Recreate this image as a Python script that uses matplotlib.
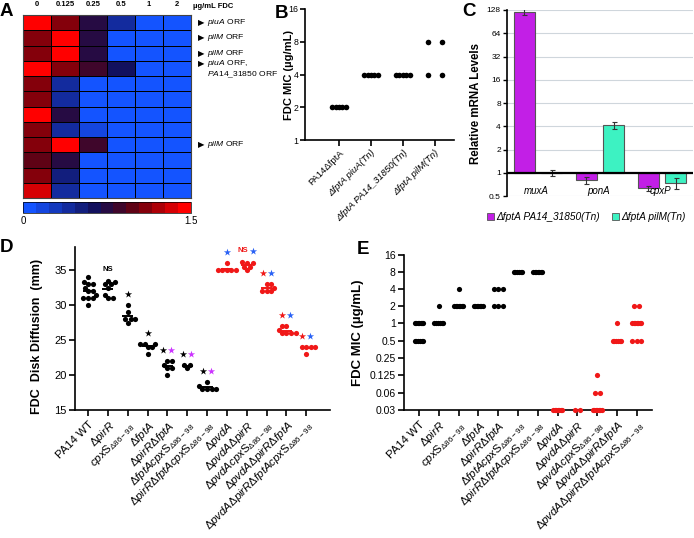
import numpy as np
import matplotlib
matplotlib.use('Agg')
import matplotlib.pyplot as plt
from matplotlib.colors import LinearSegmentedColormap, Normalize
from matplotlib.cm import ScalarMappable
from matplotlib.patches import Patch

plt.rcParams['font.family'] = ['Liberation Sans', 'DejaVu Sans']
plt.rcParams['mathtext.fontset'] = 'custom'
plt.rcParams['mathtext.rm'] = 'Liberation Sans'
plt.rcParams['mathtext.it'] = 'Liberation Sans:italic'
plt.rcParams['mathtext.bf'] = 'Liberation Sans:bold'
plt.rcParams['axes.linewidth'] = 1.2

# ---------------- data ----------------
# Panel A
heat_cols = ['0', '0.125', '0.25', '0.5', '1', '2']
heat_vals = np.array([
    [1.50, 1.10, 0.80, 0.40, 0.05, 0.05],
    [1.10, 1.45, 0.78, 0.05, 0.05, 0.05],
    [1.10, 1.45, 0.72, 0.05, 0.05, 0.05],
    [1.45, 1.10, 0.92, 0.62, 0.05, 0.05],
    [1.05, 0.45, 0.10, 0.05, 0.05, 0.05],
    [1.10, 0.40, 0.05, 0.05, 0.05, 0.05],
    [1.40, 0.72, 0.05, 0.05, 0.05, 0.05],
    [1.10, 0.40, 0.15, 0.05, 0.05, 0.05],
    [1.15, 1.45, 0.85, 0.05, 0.05, 0.05],
    [1.00, 0.80, 0.05, 0.05, 0.05, 0.05],
    [1.10, 0.55, 0.10, 0.05, 0.05, 0.05],
    [1.30, 0.45, 0.05, 0.05, 0.05, 0.05],
])
heat_marks = {0: [r'$\mathit{piuA}$ ORF'],
              1: [r'$\mathit{pilM}$ ORF'],
              2: [r'$\mathit{pilM}$ ORF'],
              3: [r'$\mathit{piuA}$ ORF,', r'$\mathit{PA14\_31850}$ ORF'],
              8: [r'$\mathit{pilM}$ ORF']}

# Panel B
b_labels = ['PA14ΔfptA', 'ΔfptA piuA(Tn)', 'ΔfptA PA14_31850(Tn)', 'ΔfptA pilM(Tn)']
b_vals = [[2, 2, 2, 2, 2], [4, 4, 4, 4, 4], [4, 4, 4, 4, 4], [8, 8, 4, 4]]
b_ticks = [1, 2, 4, 8, 16]

# Panel C
c_genes = ['muxA', 'ponA', 'cpxP']
c_series = ['ΔfptA PA14_31850(Tn)', 'ΔfptA pilM(Tn)']
c_31850 = [120, 0.80, 0.63]
c_31850_err = [10, 0.08, 0.05]
c_pilM = [1.0, 4.1, 0.74]
c_pilM_err = [0.08, 0.45, 0.12]
c_ticks = [0.5, 1, 2, 4, 8, 16, 32, 64, 128]

# Panels D & E
sub = r'\mathrm{S}_{\mathrm{Δ86-98}}'
strains = [
    'PA14 WT',
    r'Δ$\mathit{pirR}$',
    r'$\mathit{cpx}' + sub + '$',
    r'Δ$\mathit{fptA}$',
    r'Δ$\mathit{pirR}$Δ$\mathit{fptA}$',
    r'Δ$\mathit{fptAcpx}' + sub + '$',
    r'Δ$\mathit{pirR}$Δ$\mathit{fptAcpx}' + sub + '$',
    r'Δ$\mathit{pvdA}$',
    r'Δ$\mathit{pvdA}$Δ$\mathit{pirR}$',
    r'Δ$\mathit{pvdAcpx}' + sub + '$',
    r'Δ$\mathit{pvdA}$Δ$\mathit{pirR}$Δ$\mathit{fptA}$',
    r'Δ$\mathit{pvdA}$Δ$\mathit{pirR}$Δ$\mathit{fptAcpx}' + sub + '$',
]
strain_red = [False] * 7 + [True] * 5

d_vals = [
    [34, 33.3, 33, 33, 32.5, 32, 32, 31.5, 31, 31, 31, 30],
    [33.5, 33.3, 33, 33, 32.5, 31.5, 31, 31],
    [30, 29, 28, 28, 28, 27.5],
    [24.5, 24.5, 24.5, 24, 24, 23],
    [22, 22, 21.5, 21, 21, 20],
    [21, 21.5, 21.5],
    [19, 18.5, 18, 18, 18, 18],
    [36, 35, 35, 35, 35, 35],
    [36.2, 36, 36, 35.5, 35.5, 35],
    [33, 33, 32.5, 32, 32, 32],
    [27, 27, 26.5, 26, 26, 26, 26],
    [24, 24, 24, 24, 23],
]
d_sig = [
    [],
    [('NS', 'k')],
    [('*', 'k')],
    [('*', 'k')],
    [('*', 'k'), ('*', 'm')],
    [('*', 'k'), ('*', 'm')],
    [('*', 'k'), ('*', 'm')],
    [('*', 'b')],
    [('NS', 'r'), ('*', 'b')],
    [('*', 'r'), ('*', 'b')],
    [('*', 'r'), ('*', 'b')],
    [('*', 'r'), ('*', 'b')],
]

e_vals = [
    [1] * 7 + [0.5] * 6,
    [2] + [1] * 6,
    [4] + [2] * 7,
    [2] * 7,
    [4] * 3 + [2] * 3,
    [8] * 6,
    [8] * 7,
    [0.03] * 7,
    [0.03] * 2,
    [0.125] + [0.06] * 2 + [0.03] * 7,
    [1] + [0.5] * 6,
    [2] * 2 + [1] * 7 + [0.5] * 3,
]
e_ticks = [0.03, 0.06, 0.125, 0.25, 0.5, 1, 2, 4, 8, 16]

# ---------------- styling ----------------
W, H = 694, 538
fig = plt.figure(figsize=(W / 100, H / 100), dpi=100)

def rect(x0, y0, x1, y1):
    return [x0 / W, 1 - y1 / H, (x1 - x0) / W, (y1 - y0) / H]

MAG = '#C21FE6'
GRN = '#3DF2C2'
RED = '#F01818'
BLUE = '#2A62F5'
PINK = '#CC33FF'
colmap = {'k': 'black', 'm': PINK, 'r': RED, 'b': BLUE}

def spread(vals, max_step, total):
    vals = np.asarray(vals, float)
    offs = np.zeros(len(vals))
    for v in np.unique(vals):
        idx = np.where(vals == v)[0]
        n = len(idx)
        if n > 1:
            step = min(max_step, total / (n - 1))
            offs[idx] = (np.arange(n) - (n - 1) / 2) * step
    return offs

def swarm(vals, ppu_y, ppu_x, d):
    ys = np.asarray(vals, float) * ppu_y
    xs = np.zeros(len(ys))
    done = []
    for i in np.argsort(ys):
        y = ys[i]
        cands = [0.0]
        for j in done:
            dy = y - ys[j]
            if abs(dy) < d:
                dx = np.sqrt(d * d - dy * dy)
                cands += [xs[j] + dx, xs[j] - dx]
        cands.sort(key=abs)
        for c in cands:
            if all((c - xs[j]) ** 2 + (y - ys[j]) ** 2 >= d * d - 1e-6 for j in done):
                xs[i] = c
                break
        done.append(i)
    return xs / ppu_x

def letter(x, y, s):
    fig.text(x / W, 1 - y / H, s, fontsize=13.5, fontweight='bold', ha='left', va='center')

# ---------------- Panel A ----------------
cmap = LinearSegmentedColormap.from_list('fdc', [
    (0.0, (0.08, 0.33, 1.0)),
    (0.42, (0.07, 0.06, 0.36)),
    (0.55, (0.20, 0.03, 0.20)),
    (0.70, (0.42, 0.0, 0.05)),
    (1.0, (1.0, 0.0, 0.0))], N=13)
axA = fig.add_axes(rect(23, 15, 191, 198))
axA.pcolormesh(heat_vals, cmap=cmap, vmin=0, vmax=1.5, edgecolors='black', linewidth=0.7)
axA.set_xlim(0, 6)
axA.set_ylim(12, 0)
axA.set_xticks([])
axA.set_yticks([])
for s in axA.spines.values():
    s.set_linewidth(0.8)
    s.set_color('#444444')
for j, c in enumerate(heat_cols):
    axA.text(j + 0.5, -0.45, c, ha='center', va='bottom', fontsize=5.5, fontweight='bold')
fig.text(193 / W, 1 - 7 / H, 'µg/mL FDC', fontsize=5.5, fontweight='bold', ha='left', va='center')
for r, lines in heat_marks.items():
    yc = 15 + (198 - 15) / 12 * (r + 0.5)
    if len(lines) > 1:
        yc -= 4.5
    fig.text(198 / W, 1 - yc / H, '▶', family='DejaVu Sans', fontsize=6, ha='left', va='center')
    for k, ln in enumerate(lines):
        fig.text(207 / W, 1 - (yc + k * 10.5) / H, ln, fontsize=6.1, ha='left', va='center')

caxA = fig.add_axes(rect(23, 202, 191, 213))
cb = fig.colorbar(ScalarMappable(norm=Normalize(0, 1.5), cmap=cmap), cax=caxA,
                  orientation='horizontal', ticks=[])
cb.outline.set_linewidth(0.5)
fig.text(23 / W, 1 - 221 / H, '0', fontsize=7, ha='center', va='center')
fig.text(191 / W, 1 - 221 / H, '1.5', fontsize=7, ha='center', va='center')
letter(0, 12, 'A')

# ---------------- Panel B ----------------
axB = fig.add_axes(rect(305, 9, 454, 140))
for i, vals in enumerate(b_vals):
    offs = spread(vals, 0.44, 0.42)
    axB.scatter(i + offs, vals, s=16, color='black', zorder=3, clip_on=False, linewidths=0)
axB.set_yscale('log', base=2)
axB.set_ylim(1, 16)
axB.set_yticks(b_ticks)
axB.set_yticklabels([str(t) for t in b_ticks])
axB.minorticks_off()
axB.set_xlim(-1.06, 3.6)
axB.set_xticks(range(len(b_labels)))
axB.set_xticklabels(b_labels, rotation=45, ha='right', rotation_mode='anchor', fontsize=6.8)
for k, t in enumerate(axB.get_xticklabels()):
    if k > 0:
        t.set_fontstyle('italic')
axB.tick_params(axis='y', labelsize=6.3, length=3.5, width=1.2, pad=1)
axB.tick_params(axis='x', length=4, width=1.2, pad=2)
axB.spines[['top', 'right']].set_visible(False)
axB.set_ylabel('FDC MIC (µg/mL)', fontsize=8, fontweight='bold')
axB.yaxis.set_label_coords(-0.075, 0.5)
letter(275, 14, 'B')

# ---------------- Panel C ----------------
axC = fig.add_axes(rect(507, 10, 693, 196))
axC.set_yscale('log', base=2)
axC.set_ylim(0.5, 128)
axC.set_yticks(c_ticks)
axC.set_yticklabels([('%g' % t) for t in c_ticks])
axC.minorticks_off()
axC.yaxis.grid(True, color='#cfd6dc', lw=0.8)
axC.set_axisbelow(True)
xc = np.arange(len(c_genes))
wbar = 0.34
for vals, errs, col, off in [(c_31850, c_31850_err, MAG, -0.22), (c_pilM, c_pilM_err, GRN, 0.22)]:
    vals = np.asarray(vals, float)
    axC.bar(xc + off, vals - 1, bottom=1, width=wbar, color=col, edgecolor='#555555', lw=0.8, zorder=2)
    axC.errorbar(xc + off, vals, yerr=errs, fmt='none', ecolor='#333333', elinewidth=0.8,
                 capsize=1.8, capthick=0.8, zorder=3)
axC.axhline(1, color='black', lw=1.6, zorder=4)
for i, g in enumerate(c_genes):
    axC.text(i - 0.03, 0.58, g, fontsize=7, fontstyle='italic', ha='center', va='center', zorder=5)
axC.set_xlim(-0.5, 2.5)
axC.set_xticks([])
axC.spines[['top', 'right', 'bottom']].set_visible(False)
axC.tick_params(axis='y', labelsize=6, length=3, width=1, pad=1.5)
axC.set_ylabel('Relative mRNA Levels', fontsize=8.3, fontweight='bold')
axC.yaxis.set_label_coords(-0.135, 0.5)
handles = [Patch(facecolor=MAG, edgecolor='#555555', lw=0.6), Patch(facecolor=GRN, edgecolor='#555555', lw=0.6)]
fig.legend(handles, c_series, loc='center', bbox_to_anchor=(586 / W, 1 - 217 / H), ncol=2,
           frameon=False, prop={'style': 'italic', 'size': 7.3}, handlelength=0.7, handleheight=0.7,
           handletextpad=0.2, columnspacing=1.2, borderpad=0)
letter(462, 11, 'C')

# ---------------- Panel D ----------------
axD = fig.add_axes(rect(75, 247, 330, 410))
axD.set_ylim(15, 38.29)
axD.set_xlim(-0.66, 12.2)
for i, vals in enumerate(d_vals):
    col = RED if strain_red[i] else 'black'
    offs = swarm(vals, 7.0, 19.8, 4.6)
    axD.scatter(i + offs, vals, s=14, color=col, zorder=3, linewidths=0, clip_on=False)
    m = np.mean(vals)
    axD.hlines(m, i - 0.28, i + 0.28, color=col, lw=1.4, zorder=4)
    top = max(vals) + 1.55
    syms = d_sig[i]
    if len(syms) == 0:
        continue
    if len(syms) == 1:
        xs = [i]
    elif syms[0][0] == 'NS':
        xs = [i - 0.2, i + 0.33]
    else:
        xs = [i - 0.2, i + 0.2]
    for (sym, c), x in zip(syms, xs):
        if sym == 'NS':
            axD.text(x, top, 'NS', fontsize=5.5, fontweight='bold', color=colmap[c],
                     ha='center', va='center', clip_on=False)
        else:
            axD.scatter([x], [top], marker='*', s=30, color=colmap[c], linewidths=0, clip_on=False)
axD.set_yticks([15, 20, 25, 30, 35])
axD.set_xticks(range(len(strains)))
axD.set_xticklabels(strains, rotation=45, ha='right', rotation_mode='anchor', fontsize=8.2)
axD.tick_params(axis='y', labelsize=8, length=4, width=1.2, pad=2)
axD.tick_params(axis='x', length=4, width=1.2, pad=2.5)
axD.spines[['top', 'right']].set_visible(False)
axD.set_ylabel('FDC  Disk Diffusion  (mm)', fontsize=9, fontweight='bold')
axD.yaxis.set_label_coords(-0.125, 0.45)
letter(0, 248, 'D')

# ---------------- Panel E ----------------
axE = fig.add_axes(rect(404, 255, 652, 410))
axE.set_yscale('log', base=2)
axE.set_ylim(0.03, 16)
axE.set_xlim(-0.76, 11.77)
for i, vals in enumerate(e_vals):
    col = RED if strain_red[i] else 'black'
    offs = spread(vals, 0.25, 0.45)
    axE.scatter(i + offs, vals, s=14, color=col, zorder=3, linewidths=0, clip_on=False)
axE.set_yticks(e_ticks)
axE.set_yticklabels([('%g' % t) for t in e_ticks])
axE.minorticks_off()
axE.set_xticks(range(len(strains)))
axE.set_xticklabels(strains, rotation=45, ha='right', rotation_mode='anchor', fontsize=8.2)
axE.tick_params(axis='y', labelsize=7.5, length=4, width=1.2, pad=2)
axE.tick_params(axis='x', length=4, width=1.2, pad=2.5)
axE.spines[['top', 'right']].set_visible(False)
axE.set_ylabel('FDC MIC (µg/mL)', fontsize=9.5, fontweight='bold')
axE.yaxis.set_label_coords(-0.16, 0.5)
letter(357, 250, 'E')

fig.savefig('out.png', dpi=100)
